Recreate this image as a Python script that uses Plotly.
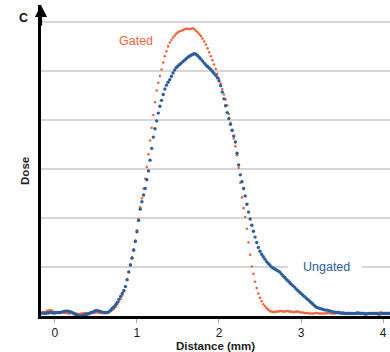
import plotly.graph_objects as go

dist_start = -0.16
dist_step = 0.02

ungated = [
    0.06, 0.06, 0.05, 0.06, 0.06, 0.07, 0.07, 0.06, 0.06, 0.07,
    0.07, 0.07, 0.08, 0.09, 0.10, 0.10, 0.10, 0.09, 0.08, 0.06,
    0.04, 0.02, 0.01, 0.00, 0.00, 0.01, 0.02, 0.03, 0.04, 0.05,
    0.07, 0.08, 0.10, 0.11, 0.11, 0.10, 0.09, 0.08, 0.07, 0.07,
    0.07, 0.09, 0.12, 0.16, 0.19, 0.23, 0.28, 0.34, 0.40, 0.46,
    0.52, 0.60, 0.74, 0.90, 1.04, 1.18, 1.34, 1.52, 1.72, 1.95,
    2.18, 2.33, 2.47, 2.60, 2.78, 2.96, 3.18, 3.42, 3.65, 3.82,
    3.98, 4.14, 4.28, 4.40, 4.52, 4.63, 4.71, 4.77, 4.82, 4.89,
    4.96, 5.02, 5.07, 5.10, 5.13, 5.16, 5.19, 5.22, 5.25, 5.28,
    5.30, 5.32, 5.34, 5.35, 5.34, 5.31, 5.28, 5.24, 5.20, 5.16,
    5.12, 5.09, 5.06, 5.03, 4.99, 4.95, 4.91, 4.86, 4.80, 4.70,
    4.57, 4.43, 4.29, 4.15, 4.03, 3.91, 3.79, 3.67, 3.55, 3.32,
    3.08, 2.88, 2.74, 2.60, 2.45, 2.28, 2.12, 1.98, 1.85, 1.73,
    1.61, 1.50, 1.40, 1.32, 1.26, 1.21, 1.16, 1.11, 1.07, 1.04,
    1.00, 0.98, 0.96, 0.94, 0.92, 0.90, 0.86, 0.82, 0.79, 0.75,
    0.72, 0.69, 0.65, 0.62, 0.59, 0.55, 0.52, 0.49, 0.46, 0.43,
    0.40, 0.37, 0.34, 0.31, 0.28, 0.25, 0.22, 0.19, 0.17, 0.16,
    0.15, 0.14, 0.13, 0.12, 0.12, 0.11, 0.10, 0.09, 0.08, 0.08,
    0.07, 0.07, 0.06, 0.06, 0.06, 0.05, 0.05, 0.05, 0.05, 0.05,
    0.05, 0.05, 0.06, 0.06, 0.05, 0.05, 0.05, 0.04, 0.04, 0.05,
    0.05, 0.05, 0.05, 0.05, 0.05, 0.04, 0.04, 0.05, 0.05, 0.05,
    0.05, 0.05, 0.05,
]

gated = [
    0.06, 0.07, 0.08, 0.10, 0.11, 0.12, 0.11, 0.09, 0.08, 0.07,
    0.06, 0.06, 0.07, 0.07, 0.06, 0.06, 0.05, 0.05, 0.06, 0.06,
    0.05, 0.05, 0.04, 0.04, 0.05, 0.05, 0.06, 0.06, 0.05, 0.05,
    0.06, 0.06, 0.06, 0.07, 0.07, 0.06, 0.06, 0.06, 0.06, 0.06,
    0.07, 0.08, 0.10, 0.12, 0.15, 0.19, 0.24, 0.29, 0.35, 0.42,
    0.50, 0.60, 0.74, 0.90, 1.05, 1.20, 1.36, 1.54, 1.75, 1.98,
    2.22, 2.40, 2.60, 2.80, 3.04, 3.30, 3.58, 3.84, 4.10, 4.36,
    4.60, 4.76, 4.90, 5.03, 5.17, 5.30, 5.40, 5.50, 5.58, 5.63,
    5.68, 5.72, 5.76, 5.79, 5.81, 5.82, 5.83, 5.85, 5.86, 5.86,
    5.85, 5.86, 5.87, 5.85, 5.82, 5.79, 5.75, 5.71, 5.66, 5.60,
    5.54, 5.46, 5.38, 5.30, 5.22, 5.13, 5.04, 4.94, 4.85, 4.74,
    4.63, 4.52, 4.42, 4.30, 4.12, 3.94, 3.78, 3.62, 3.46, 3.28,
    3.02, 2.72, 2.42, 2.20, 2.02, 1.78, 1.50, 1.25, 1.01, 0.86,
    0.70, 0.57, 0.46, 0.37, 0.30, 0.24, 0.20, 0.16, 0.13, 0.10,
    0.09, 0.08, 0.08, 0.09, 0.09, 0.10, 0.10, 0.09, 0.09, 0.10,
    0.10, 0.09, 0.09, 0.08, 0.08, 0.09, 0.09, 0.08, 0.07, 0.07,
    0.06, 0.06, 0.06, 0.05, 0.05, 0.05, 0.05, 0.06, 0.06, 0.05,
    0.05, 0.05, 0.05, 0.05, 0.06, 0.06, 0.05, 0.05, 0.05, 0.05,
    0.06, 0.06, 0.05, 0.05, 0.05, 0.05, 0.06, 0.06, 0.06, 0.05,
    0.05, 0.05, 0.05, 0.05, 0.06, 0.06, 0.06, 0.05, 0.05, 0.05,
    0.05, 0.05, 0.06, 0.06, 0.06, 0.06, 0.07, 0.07, 0.06, 0.06,
    0.06, 0.06, 0.06,
]

x_ticks = [0, 1, 2, 3, 4]
y_grid = [1, 2, 3, 4, 5, 6]

dist = [round(dist_start + dist_step * i, 2) for i in range(len(ungated))]

GATED_COLOR = "#EC6640"
UNGATED_COLOR = "#2C5E9B"
FONT = "Liberation Sans, Arial, sans-serif"

# plot area in pixels: left 41, right 390, top 5, bottom 318
PL, PW, PB, PH = 41, 349, 318, 313


def px(xp):
    return (xp - PL) / PW


def py(yp):
    return (PB - yp) / PH


fig = go.Figure()
fig.add_trace(go.Scatter(
    x=dist, y=gated, mode="markers", name="Gated",
    marker=dict(color=GATED_COLOR, size=2.6, line=dict(width=0)),
))
fig.add_trace(go.Scatter(
    x=dist, y=ungated, mode="markers", name="Ungated",
    marker=dict(color=UNGATED_COLOR, size=3.4, line=dict(width=0)),
))

fig.update_layout(
    width=390, height=352,
    margin=dict(l=PL, r=0, t=5, b=34),
    paper_bgcolor="white", plot_bgcolor="white",
    showlegend=False,
    font=dict(family=FONT, color="#222222"),
    xaxis=dict(
        range=[-0.17, 4.085], tickvals=x_ticks,
        showgrid=False, zeroline=False,
        showline=True, linecolor="black", linewidth=2.5,
        ticks="outside", ticklen=4, tickcolor="#aaaaaa", tickwidth=1,
        tickfont=dict(size=12, color="#1a1a1a", family=FONT),
        title=dict(text="<b>Distance (mm)</b>", font=dict(size=11.5), standoff=4),
    ),
    yaxis=dict(
        range=[0, 6.345], tickvals=y_grid, showticklabels=False,
        showgrid=True, gridcolor="#d6d6d6", gridwidth=1.5,
        zeroline=False, showline=True, linecolor="black", linewidth=2.5,
        ticks="",
    ),
    shapes=[
        dict(type="rect", layer="between", xref="x", yref="y",
             x0=2.84, x1=3.74, y0=0.9, y1=1.1,
             fillcolor="white", line=dict(width=0)),
    ],
    annotations=[
        dict(x=0, y=1, xref="paper", yref="paper", text="",
             showarrow=True, arrowhead=2, arrowsize=1.1, arrowwidth=2.2,
             arrowcolor="black", ax=0, ay=22, standoff=0),
        dict(x=px(25), y=py(172), xref="paper", yref="paper",
             xanchor="center", yanchor="middle",
             text="<b>Dose</b>", textangle=-90, showarrow=False,
             font=dict(size=11.5, color="#222222")),
        dict(x=px(23), y=py(18), xref="paper", yref="paper",
             xanchor="center", yanchor="middle",
             text="<b>C</b>", showarrow=False,
             font=dict(size=12.5, color="#111111")),
        dict(x=px(136), y=py(41), xref="paper", yref="paper",
             xanchor="center", yanchor="middle",
             text="Gated", showarrow=False,
             font=dict(size=12.5, color=GATED_COLOR)),
        dict(x=px(326), y=py(269), xref="paper", yref="paper",
             xanchor="center", yanchor="middle",
             text="Ungated", showarrow=False,
             font=dict(size=12.5, color=UNGATED_COLOR)),
    ],
)

fig.write_html("out.html")
